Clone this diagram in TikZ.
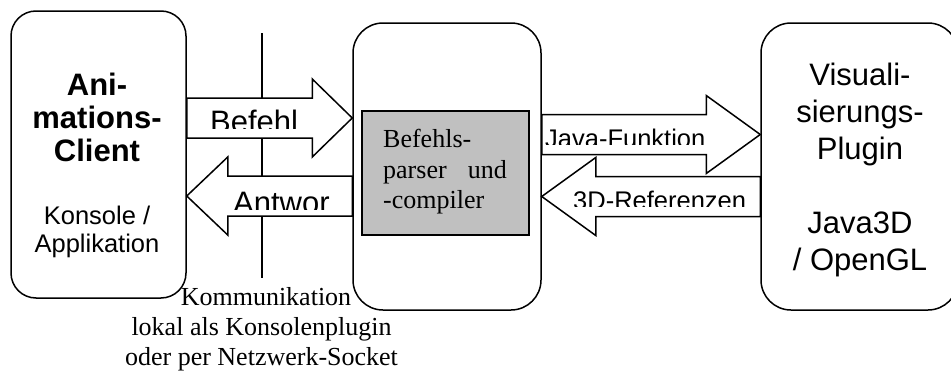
\documentclass[tikz,border=0pt]{standalone}
\usepackage{fontspec}
\setmainfont{Liberation Serif}
\setsansfont{Liberation Sans}
\usetikzlibrary{calc}

\definecolor{coregray}{HTML}{C0C0C0}

\tikzset{
  box/.style={draw, line width=1.5pt, rounded corners=#1, inner sep=0pt},
  blockarrow/.style={draw, fill=white, line width=1.5pt, line join=miter},
  headtxt/.style={font=\sffamily\bfseries\fontsize{31}{37}\selectfont, inner sep=0pt, anchor=base},
  bigtxt/.style={font=\sffamily\fontsize{31}{37}\selectfont, inner sep=0pt, anchor=base},
  midtxt/.style={font=\sffamily\fontsize{25.5}{28}\selectfont, inner sep=0pt, anchor=base},
  arrowtxt/.style={font=\sffamily\fontsize{#1}{#1}\selectfont, inner sep=0pt, anchor=base west},
  serif/.style={font=\rmfamily\fontsize{26}{30}\selectfont, inner sep=0pt},
}

% block arrow pointing right: tail anchor, tip anchor, centre y, head length
\newcommand\rightblockarrow[4]{%
  \filldraw[blockarrow]
    (#1 |- 0,#3-20) -- ($(#2 |- 0,#3-20)+(-#4,0)$) -- ($(#2 |- 0,#3-39)+(-#4,0)$)
    -- (#2 |- 0,#3) -- ($(#2 |- 0,#3+39)+(-#4,0)$) -- ($(#2 |- 0,#3+20)+(-#4,0)$)
    -- (#1 |- 0,#3+20) -- cycle;}
% block arrow pointing left: tail anchor, tip anchor, centre y, head length
\newcommand\leftblockarrow[4]{%
  \filldraw[blockarrow]
    (#1 |- 0,#3-20) -- ($(#2 |- 0,#3-20)+(#4,0)$) -- ($(#2 |- 0,#3-39)+(#4,0)$)
    -- (#2 |- 0,#3) -- ($(#2 |- 0,#3+39)+(#4,0)$) -- ($(#2 |- 0,#3+20)+(#4,0)$)
    -- (#1 |- 0,#3+20) -- cycle;}

\begin{document}
\begin{tikzpicture}[x=1pt, y=-1pt]
  \useasboundingbox (0,0) rectangle (951,372);
  \clip (0,0) rectangle (951,372);

  % the three components
  \node[box=25pt, minimum width=175pt, minimum height=287pt] (client) at (98.5,154.5) {};
  \node[box=30pt, minimum width=188pt, minimum height=287pt] (core) at (447,166.5) {};
  \node[box=30pt, minimum width=197pt, minimum height=287pt] (plugin) at (859.5,166.5) {};
  \node[draw, line width=2pt, fill=coregray, minimum width=167pt, minimum height=124pt, inner sep=0pt] (parser) at (445.5,173) {};

  % communication boundary
  \coordinate (linetop) at (262,33);
  \coordinate (linebot) at (262,278);
  \draw[line width=1.5pt] (linetop) -- (linebot);

  % data flow
  \rightblockarrow{client.east}{core.west}{118}{40}
  \leftblockarrow{core.west}{client.east}{196}{41}
  \rightblockarrow{core.east}{plugin.west}{134.5}{54}
  \leftblockarrow{plugin.west}{core.east}{196.5}{54}

  % arrow labels, cut off by their text frames
  \begin{scope}
    \clip (200,100) rectangle (312,128.3);
    \node[arrowtxt=31] (lblcmd) at (210,132.5) {Befehl};
  \end{scope}
  \begin{scope}
    \clip (229,178) rectangle (352,209.3);
    \node[arrowtxt=31] (lblans) at (233,213) {Antwor};
  \end{scope}
  \begin{scope}
    \clip (543,116) rectangle (712,144.3);
    \node[arrowtxt=25.5] (lbljava) at (545,147.5) {Java-Funktion};
  \end{scope}
  \begin{scope}
    \clip (570,179) rectangle (759,206.7);
    \node[arrowtxt=25.5] (lblref) at (573,209.5) {3D-Referenzen};
  \end{scope}

  % client texts
  \node[headtxt] (c1) at (97,95) {Ani-};
  \node[headtxt] (c2) at (97,128) {mations-};
  \node[headtxt] (c3) at (97,161) {Client};
  \node[midtxt] (c4) at (97,224) {Konsole /};
  \node[midtxt] (c5) at (97,252) {Applikation};

  % parser texts
  \node[serif, anchor=base west] (p1) at (383,147) {Befehls-};
  \node[serif, anchor=base west] (p2) at (383,178) {parser};
  \node[serif, anchor=base east] (p3) at (507,178) {und};
  \node[serif, anchor=base west] (p4) at (383,208) {-compiler};

  % plugin texts
  \node[bigtxt] (v1) at (860,85) {Visuali-};
  \node[bigtxt] (v2) at (860,122) {sierungs-};
  \node[bigtxt] (v3) at (860,159) {Plugin};
  \node[bigtxt] (v4) at (860,233) {Java3D};
  \node[bigtxt] (v5) at (860,270) {/ OpenGL};

  % caption of the boundary
  \node[serif, anchor=base] (k1) at (266,305) {Kommunikation};
  \node[serif, anchor=base] (k2) at (261.5,335) {lokal als Konsolenplugin};
  \node[serif, anchor=base] (k3) at (261.5,365) {oder per Netzwerk-Socket};
\end{tikzpicture}
\end{document}
